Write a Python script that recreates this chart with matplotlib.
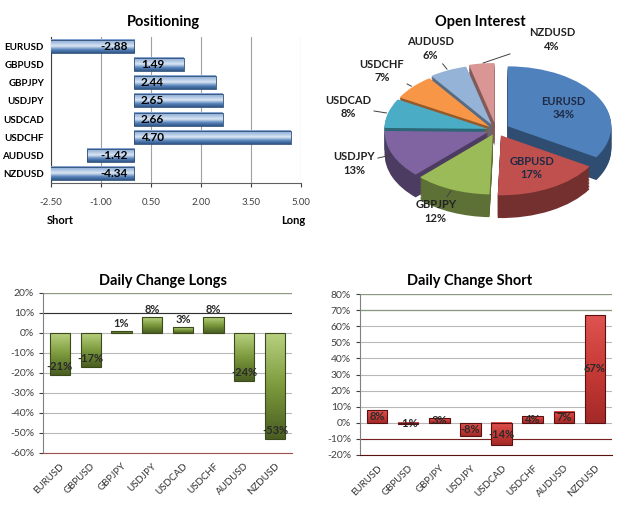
import numpy as np
import matplotlib
matplotlib.use("Agg")
import matplotlib.pyplot as plt
from matplotlib.colors import LinearSegmentedColormap, to_rgb
from matplotlib.ticker import FuncFormatter

plt.rcParams['font.family'] = ['Lato', 'DejaVu Sans']

# --- data ---
pairs = ["EURUSD", "GBPUSD", "GBPJPY", "USDJPY", "USDCAD", "USDCHF", "AUDUSD", "NZDUSD"]
positioning = [-2.88, 1.49, 2.44, 2.65, 2.66, 4.70, -1.42, -4.34]
pos_ticks = [-2.5, -1.0, 0.5, 2.0, 3.5, 5.0]

open_interest = [34, 17, 12, 13, 8, 7, 6, 4]

longs_change = [-21, -17, 1, 8, 3, 8, -24, -53]
longs_ticks = [20, 10, 0, -10, -20, -30, -40, -50, -60]

short_change = [8, -1, 3, -8, -14, 4, 7, 67]
short_ticks = [80, 70, 60, 50, 40, 30, 20, 10, 0, -10, -20]

pie_colors = ["#4F81BD", "#C0504D", "#9BBB59", "#8064A2",
              "#4BACC6", "#F79646", "#95B3D7", "#D99694"]

W, H = 625, 513
fig = plt.figure(figsize=(W / 100, H / 100), dpi=100)


def box(x0, y0, x1, y1):
    """pixel box (top-left origin) -> figure fraction rect"""
    return [x0 / W, 1 - y1 / H, (x1 - x0) / W, (y1 - y0) / H]


def shade_bars(ax, bars, cmap):
    """fill each bar with a vertical gradient, kept inside the axes limits"""
    grad = np.linspace(0, 1, 64).reshape(-1, 1)
    xl, yl = sorted(ax.get_xlim()), sorted(ax.get_ylim())
    for b in bars:
        x, y = b.get_xy()
        w, h = b.get_width(), b.get_height()
        x0, x1 = np.clip(sorted([x, x + w]), *xl)
        y0, y1 = np.clip(sorted([y, y + h]), *yl)
        ax.imshow(grad, cmap=cmap, extent=(x0, x1, y0, y1), origin="lower",
                  aspect="auto", zorder=b.get_zorder() - 0.1, interpolation="bilinear")
        b.set_facecolor("none")
    ax.set_xlim(xl)
    ax.set_ylim(yl)


# ---------------- Positioning ----------------
ax1 = fig.add_axes(box(51, 37, 301, 183))
ypos = np.arange(len(pairs))[::-1]
bars = ax1.barh(ypos, positioning, height=0.72, edgecolor="#2C4D75", linewidth=0.6, zorder=3)
ax1.set_xlim(-2.5, 5.0)
ax1.set_ylim(-0.5, len(pairs) - 0.5)
blue = LinearSegmentedColormap.from_list(
    "blue", ["#2F5587", "#5A86BE", "#DCE7F4", "#A9C2E2", "#7FA2CF"])
shade_bars(ax1, bars, blue)
for yp, v in zip(ypos, positioning):
    if v >= 0:
        ax1.text(0.2, yp, f"{v:.2f}", ha="left", va="center", fontsize=8.5,
                 fontweight="bold", zorder=5)
    else:
        ax1.text(-0.2, yp, f"{v:.2f}", ha="right", va="center", fontsize=8.5,
                 fontweight="bold", zorder=5)
ax1.set_xticks(pos_ticks)
ax1.xaxis.set_major_formatter(FuncFormatter(lambda v, p: f"{v:.2f}"))
ax1.set_yticks(ypos)
ax1.set_yticklabels(pairs, fontsize=7, fontweight="bold")
ax1.tick_params(axis="y", length=0, pad=5)
ax1.tick_params(axis="x", length=3, labelsize=7, colors="#404040", pad=8)
ax1.xaxis.grid(True, color="#A0A0A0", linewidth=0.8)
ax1.set_axisbelow(True)
for s in ["top", "right"]:
    ax1.spines[s].set_visible(False)
ax1.spines["left"].set_color("#404040")
ax1.spines["bottom"].set_color("#606060")
fig.text(163 / W, 1 - 22 / H, "Positioning", ha="center", va="center",
         fontsize=10.5, fontweight="bold")
fig.text(60 / W, 1 - 220 / H, "Short", ha="center", va="center", fontsize=8, fontweight="bold")
fig.text(293 / W, 1 - 220 / H, "Long", ha="center", va="center", fontsize=8, fontweight="bold")

# ---------------- Open Interest (pseudo 3D pie) ----------------
ax2 = fig.add_axes(box(380, 60, 612, 220))
explode = [0.13, 0.1, 0.08, 0.08, 0.08, 0.08, 0.1, 0.12]
dark = [tuple(c * 0.6 for c in to_rgb(col)) for col in pie_colors]
for d in np.linspace(0.38, 0.02, 16):
    ax2.pie(open_interest, explode=explode, colors=dark, startangle=90,
            counterclock=False, center=(0, -d), wedgeprops=dict(linewidth=0))
wedges, _ = ax2.pie(open_interest, explode=explode, colors=pie_colors, startangle=90,
                    counterclock=False, center=(0, 0), wedgeprops=dict(linewidth=0))
for w, name, v in zip(wedges, pairs, open_interest):
    mid_deg = (w.theta1 + w.theta2) / 2
    mid = np.deg2rad(mid_deg)
    cx, cy = w.center
    ex, ey = cx + np.cos(mid), cy + np.sin(mid)
    if v >= 15:
        ax2.text(cx + 0.62 * np.cos(mid), cy + 0.62 * np.sin(mid), f"{name}\n{v}%",
                 ha="center", va="center", fontsize=8, fontweight="bold",
                 color="#1F2A44", linespacing=1.3)
        continue
    tx, ty = cx + 1.4 * np.cos(mid), cy + 1.4 * np.sin(mid)
    if 90 < mid_deg % 360 < 105:
        # crowded top slot: push the label over to the right
        tx = -tx + 0.35
    ax2.annotate(f"{name}\n{v}%", xy=(ex, ey), xytext=(tx, ty),
                 ha="center", va="center", fontsize=8, fontweight="bold",
                 color="#222222", linespacing=1.3, annotation_clip=False,
                 arrowprops=dict(arrowstyle="-", color="#404040", lw=0.7,
                                 shrinkA=12, shrinkB=1))
ax2.set_aspect("auto")
ax2.set_xlim(-1.12, 1.12)
ax2.set_ylim(-1.5, 1.17)
ax2.axis("off")
fig.text(480 / W, 1 - 22 / H, "Open Interest", ha="center", va="center",
         fontsize=10.5, fontweight="bold")


# ---------------- Daily change charts ----------------
def change_chart(rect, values, ticks, cmap, edge, title, title_x, label_mode):
    ax = fig.add_axes(rect)
    x = np.arange(len(pairs))
    bars = ax.bar(x, values, width=0.66, edgecolor=edge, linewidth=0.8, zorder=3)
    ax.set_xlim(-0.55, len(pairs) - 0.45)
    ax.set_ylim(min(ticks), max(ticks))
    shade_bars(ax, bars, cmap)
    span = max(ticks) - min(ticks)
    for xi, v in zip(x, values):
        if label_mode == "end":
            if v >= 0:
                yl, va = v + 0.01 * span, "bottom"
            else:
                yl, va = v + 0.05 * span, "center"
        else:
            yl, va = v / 2, "center"
        ax.text(xi, yl, f"{v}%", ha="center", va=va, fontsize=8, fontweight="bold",
                color="#2A2A2A", zorder=5)
    ax.set_yticks(ticks)
    ax.yaxis.set_major_formatter(FuncFormatter(lambda v, p: f"{v:.0f}%"))
    ax.set_xticks(x)
    ax.set_xticklabels(pairs, rotation=45, ha="right", rotation_mode="anchor", fontsize=7)
    ax.tick_params(axis="x", length=0, pad=6, colors="#303030")
    ax.tick_params(axis="y", length=3, labelsize=7.5, colors="#404040")
    ax.yaxis.grid(True, color="#B8B8B8", linewidth=0.8)
    ax.set_axisbelow(True)
    for s in ["top", "right"]:
        ax.spines[s].set_visible(False)
    ax.spines["left"].set_color("#808080")
    fig.text(title_x / W, 1 - 281 / H, title, ha="center", va="center",
             fontsize=10.5, fontweight="bold")
    return ax


green = LinearSegmentedColormap.from_list("green", ["#4A5E22", "#7C9A3C", "#B7D07F"])
ax3 = change_chart(box(43, 293, 292, 453), longs_change, longs_ticks, green, "#3A4A1A",
                   "Daily Change Longs", 163, "end")
ax3.axhline(10, color="#303030", linewidth=0.8, zorder=1)
ax3.axhline(20, color="#8A9A80", linewidth=0.9, zorder=1)
ax3.spines["bottom"].set_color("#A05050")

red = LinearSegmentedColormap.from_list("red", ["#A42A28", "#C83A36", "#DE5450"])
ax4 = change_chart(box(360, 294, 612, 455), short_change, short_ticks, red, "#5A1010",
                   "Daily Change Short", 470, "center")
for g in [80, 70]:
    ax4.axhline(g, color="#8A9A80", linewidth=0.9, zorder=1)
ax4.axhline(-10, color="#7A2020", linewidth=0.8, zorder=1)
ax4.spines["bottom"].set_color("#5A1010")

fig.savefig("out.png", dpi=100)
